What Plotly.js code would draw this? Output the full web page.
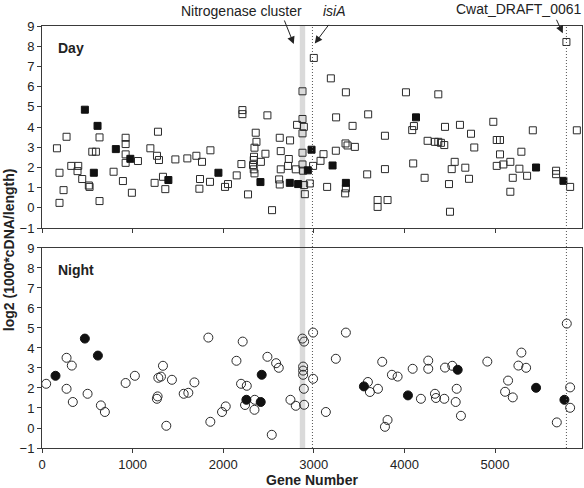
<!DOCTYPE html>
<html>
<head>
<meta charset="utf-8">
<script src="https://cdn.plot.ly/plotly-3.0.1.min.js"></script>
<style>html,body{margin:0;padding:0;background:#fff;}#chart{width:584px;height:488px;}</style>
</head>
<body>
<div id="chart"></div>
<script>
// Day panel – open squares (other genes)
const dayOpenX = [165,193,193,271,238,323,400,392,444,525,517,555,595,635,635,790,893,923,923,923,923,992,1059,1196,1280,1269,1291,1243,1335,1361,1472,1604,1704,1766,1859,1744,1737,1854,2020,2053,2149,2274,2212,2212,2201,2329,2337,2345,2345,2359,2367,2340,2337,2416,2466,2488,2539,2617,2624,2635,2624,2635,2724,2716,2738,2801,2815,2875,2875,2890,2875,2875,2875,2882,2893,2901,2956,2992,3000,3107,3074,3147,3188,3246,3243,3354,3350,3372,3453,3354,3346,3428,3589,3600,3785,3785,3704,3704,3814,4017,4086,4105,4097,4223,4256,4337,4374,4403,4440,4374,4448,4555,4522,4492,4503,4613,4672,4713,4735,4771,4981,5019,5055,5055,5019,5092,5169,5196,5169,5291,5269,5354,5417,5674,5674,5829,5788,5903];
const dayOpenY = [2.95,1.74,0.25,3.52,0.88,2.08,2.08,1.82,1.43,1.04,1.11,2.78,2.78,3.49,0.34,1.79,1.33,3.47,3.16,2.65,2.23,0.75,2.32,2.95,3.77,2.58,2.37,1.24,1.54,0.93,2.40,2.45,2.58,2.28,2.85,1.43,0.95,1.29,1.04,1.18,1.61,0.67,4.84,4.64,2.17,2.12,1.91,1.71,2.98,3.72,3.27,2.53,2.37,2.28,2.68,4.58,-0.11,1.41,1.16,1.91,3.47,2.81,2.42,2.08,3.34,1.91,4.11,5.77,4.40,4.01,3.69,2.73,2.15,1.84,1.13,0.68,1.21,2.08,7.42,2.66,2.33,1.04,6.41,4.48,2.83,5.72,3.19,3.09,3.02,0.97,0.72,4.06,1.66,4.63,3.57,1.92,0.39,0.05,0.39,5.72,3.85,4.05,2.20,1.49,3.32,3.27,3.27,3.22,3.11,5.62,4.01,2.28,1.92,1.18,-0.19,4.11,1.99,1.44,3.67,2.99,4.26,3.36,3.36,2.65,2.08,2.15,2.28,1.49,0.80,2.78,1.94,1.59,3.84,1.84,1.67,1.04,8.21,3.84];
// Day panel – filled squares
const dayFilledX = [473,613,572,815,975,1395,1947,2411,2735,2827,2934,2975,3207,3354,4128,5453,5755];
const dayFilledY = [4.86,4.06,1.74,2.91,2.43,1.38,1.74,1.28,1.24,1.18,1.86,2.88,2.10,1.24,4.48,2.00,1.34];
// Night panel – open circles
const nightOpenX = [46,271,271,329,340,503,650,694,923,1025,1284,1313,1335,1276,1268,1372,1434,1564,1615,1682,1836,1858,1987,2028,2146,2215,2197,2260,2241,2348,2345,2488,2584,2613,2536,2742,2801,2893,2875,2893,2882,2882,2882,2890,2992,2992,3133,3243,3354,3597,3619,3708,3755,3814,3785,3862,3925,4091,4182,4263,4263,4337,4348,4440,4448,4528,4577,4566,4624,4915,5144,5111,5196,5291,5258,5343,5682,5792,5829,5829];
const nightOpenY = [2.21,3.51,1.96,3.12,1.30,1.71,1.13,0.80,2.25,2.61,2.51,2.57,3.11,1.58,1.46,0.11,2.41,1.71,1.76,2.28,4.52,0.31,0.80,1.08,3.36,4.32,2.21,2.11,1.15,1.41,0.91,3.56,3.24,3.01,-0.34,1.41,1.11,1.16,4.47,4.32,3.07,2.87,2.66,1.96,4.77,2.46,0.80,3.46,4.77,2.30,1.80,1.96,3.31,0.40,0.06,2.66,2.57,2.96,1.46,3.37,2.96,1.71,1.50,1.46,3.02,3.11,1.96,1.30,0.61,3.32,2.37,1.81,1.53,3.77,3.12,3.01,0.28,5.22,2.03,1.01];
// Night panel – filled circles
const nightFilledX = [149,473,617,2256,2414,2425,3553,4039,4588,5453,5766];
const nightFilledY = [2.61,4.47,3.62,1.41,1.30,2.66,2.08,1.63,2.91,2.01,1.41];
// Highlighted positions
const nifBand = [2845, 2905];
const isiAX = 2985;
const cwatX = 5788;
const xTicks = [0,1000,2000,3000,4000,5000];
const yTicks = [-1,0,1,2,3,4,5,6,7,8,9];

const FONT = '"Liberation Sans", Arial, Helvetica, sans-serif';
const lineCol = '#3a3a3a';

const traces = [
  {x: dayOpenX, y: dayOpenY, xaxis:'x', yaxis:'y', type:'scatter', mode:'markers',
   marker:{symbol:'square-open', size:7, color:'#2a2a2a', line:{width:1, color:'#2a2a2a'}}},
  {x: dayFilledX, y: dayFilledY, xaxis:'x', yaxis:'y', type:'scatter', mode:'markers',
   marker:{symbol:'square', size:7, color:'#111', line:{width:1, color:'#111'}}},
  {x: nightOpenX, y: nightOpenY, xaxis:'x2', yaxis:'y2', type:'scatter', mode:'markers',
   marker:{symbol:'circle-open', size:9, color:'#2a2a2a', line:{width:1, color:'#2a2a2a'}}},
  {x: nightFilledX, y: nightFilledY, xaxis:'x2', yaxis:'y2', type:'scatter', mode:'markers',
   marker:{symbol:'circle', size:9, color:'#111', line:{width:1, color:'#111'}}}
];

const xBase = {range:[0,5960], tickvals:xTicks, ticks:'outside', ticklen:4, tickcolor:lineCol,
  showline:true, mirror:true, linecolor:lineCol, linewidth:1, showgrid:false, zeroline:false,
  tickfont:{family:FONT, size:13, color:'#222'}};
const yBase = {range:[-1,9], tickvals:yTicks, ticks:'outside', ticklen:4, tickcolor:lineCol,
  showline:true, mirror:true, linecolor:lineCol, linewidth:1, showgrid:false, zeroline:false,
  tickfont:{family:FONT, size:13, color:'#222'}};

function label(text, x, y, extra) {
  return Object.assign({text:text, xref:'paper', yref:'paper', x:x, y:y, showarrow:false,
    xanchor:'center', yanchor:'middle', font:{family:FONT, size:14, color:'#222'}}, extra || {});
}
function arrow(x, y, ax, ay) {
  return {text:'', xref:'x', yref:'y', x:x, y:y, showarrow:true, ax:ax, ay:ay,
    arrowhead:2, arrowsize:1.5, arrowwidth:1, arrowcolor:'#222'};
}

const layout = {
  width:584, height:488,
  margin:{l:42, r:2, t:26, b:40},
  paper_bgcolor:'#fff', plot_bgcolor:'rgba(0,0,0,0)',
  showlegend:false,
  font:{family:FONT, color:'#222'},
  xaxis: Object.assign({}, xBase, {domain:[0,1], anchor:'y', showticklabels:false}),
  yaxis: Object.assign({}, yBase, {domain:[0.521,1], anchor:'x'}),
  xaxis2: Object.assign({}, xBase, {domain:[0,1], anchor:'y2',
    title:{text:'<b>Gene Number</b>', font:{family:FONT, size:14, color:'#222'}, standoff:4}}),
  yaxis2: Object.assign({}, yBase, {domain:[0,0.474], anchor:'x2'}),
  shapes:[
    {type:'rect', xref:'x', yref:'paper', x0:nifBand[0], x1:nifBand[1], y0:0, y1:1,
     fillcolor:'#dadada', line:{width:0}, layer:'below'},
    {type:'line', xref:'x', yref:'paper', x0:isiAX, x1:isiAX, y0:0, y1:1,
     line:{color:'#555', width:1, dash:'1px,2px'}},
    {type:'line', xref:'x', yref:'paper', x0:cwatX, x1:cwatX, y0:0, y1:1,
     line:{color:'#555', width:1, dash:'1px,2px'}}
  ],
  annotations:[
    label('<b>Day</b>', 0.054, 0.948),
    label('<b>Night</b>', 0.063, 0.422),
    label('<b>log2 (1000*cDNA/length)</b>', -0.062, 0.47, {textangle:-90}),
    label('Nitrogenase cluster', 0.369, 1.036),
    label('<i>isiA</i>', 0.541, 1.036),
    label('Cwat_DRAFT_0061', 0.883, 1.040),
    arrow(2779, 8.11, -10, -25),
    arrow(3011, 8.14, 15, -20),
    arrow(5748, 8.64, -7, -15)
  ]
};

Plotly.newPlot('chart', traces, layout, {displayModeBar:false, staticPlot:true});
</script>
</body>
</html>
